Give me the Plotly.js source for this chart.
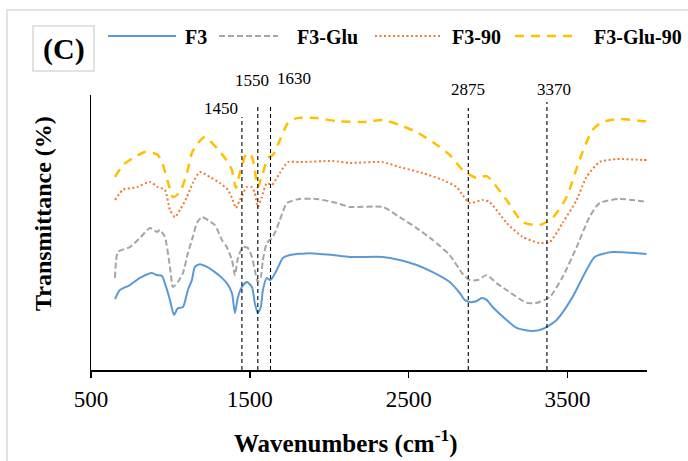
<!DOCTYPE html>
<html>
<head>
<meta charset="utf-8">
<script src="https://cdn.plot.ly/plotly-3.0.1.min.js"></script>
<style>
  html, body { margin: 0; padding: 0; background: #ffffff; }
  #chart { width: 688px; height: 461px; }
</style>
</head>
<body>
<div id="chart"></div>
<script>
// FTIR spectra (wavenumber in cm-1, transmittance in arbitrary offset %)
const wnF3 = [651, 682, 745, 808, 884, 915, 947, 965, 997, 1022, 1047, 1079, 1110, 1135, 1154, 1186, 1230, 1280, 1324, 1355, 1387, 1406, 1425, 1450, 1481, 1513, 1531, 1550, 1569, 1582, 1607, 1626, 1645, 1670, 1708, 1752, 1877, 2022, 2129, 2336, 2443, 2550, 2651, 2758, 2821, 2852, 2884, 2928, 2959, 2991, 3028, 3116, 3179, 3280, 3343, 3431, 3531, 3619, 3670, 3720, 3783, 3997];
const tF3  = [25.8, 29.1, 30.9, 33.5, 35.3, 34.5, 34.2, 31.6, 25.5, 20.0, 22.5, 22.9, 29.1, 32.7, 37.5, 38.5, 37.5, 35.6, 33.5, 31.6, 28.0, 20.7, 26.5, 30.2, 32.0, 30.2, 24.4, 20.7, 22.9, 29.1, 33.5, 32.7, 33.8, 36.4, 40.7, 41.8, 42.5, 41.8, 41.1, 41.1, 40.0, 38.2, 35.6, 32.0, 28.0, 25.5, 24.7, 25.1, 26.2, 25.5, 22.9, 18.2, 15.3, 14.2, 14.9, 18.2, 26.5, 36.4, 41.1, 42.2, 42.9, 42.2];

const wnF3Glu = [651, 670, 745, 808, 871, 915, 934, 965, 997, 1016, 1047, 1079, 1110, 1141, 1167, 1198, 1236, 1280, 1324, 1355, 1387, 1406, 1425, 1456, 1487, 1513, 1531, 1550, 1569, 1582, 1607, 1638, 1657, 1689, 1733, 1814, 1921, 2047, 2129, 2336, 2443, 2550, 2651, 2758, 2840, 2884, 2934, 2991, 3053, 3116, 3242, 3305, 3387, 3469, 3557, 3638, 3701, 3827, 3997];
const tF3Glu  = [33.5, 42.9, 44.7, 48.0, 51.6, 50.2, 50.9, 48.4, 37.5, 30.2, 32.0, 35.3, 42.5, 48.4, 53.5, 55.6, 54.5, 52.7, 47.3, 44.7, 40.0, 34.5, 40.7, 44.7, 44.4, 41.1, 36.4, 32.0, 33.8, 40.0, 46.2, 48.0, 49.8, 54.5, 60.7, 62.2, 62.2, 60.7, 59.3, 59.3, 55.6, 51.6, 47.3, 41.8, 34.9, 32.7, 32.7, 34.5, 31.6, 29.1, 24.4, 24.4, 26.5, 33.8, 44.7, 55.6, 60.7, 62.2, 61.1];

const wnF390 = [651, 701, 789, 871, 921, 965, 997, 1028, 1060, 1104, 1141, 1186, 1248, 1311, 1362, 1393, 1412, 1437, 1481, 1513, 1531, 1550, 1575, 1607, 1638, 1689, 1739, 1814, 2022, 2129, 2336, 2443, 2588, 2714, 2802, 2840, 2884, 2965, 3009, 3116, 3217, 3324, 3387, 3469, 3557, 3619, 3701, 3808, 3972, 3997];
const tF390  = [61.8, 65.5, 66.5, 68.4, 66.5, 65.5, 58.2, 55.6, 58.2, 62.9, 68.0, 72.0, 70.2, 68.0, 65.5, 61.8, 58.9, 61.8, 66.5, 66.5, 64.4, 59.3, 62.9, 68.0, 67.3, 71.6, 75.6, 75.6, 76.0, 75.3, 75.6, 73.8, 71.6, 69.1, 66.5, 63.6, 60.7, 61.8, 61.1, 53.5, 48.4, 46.2, 46.5, 53.5, 61.8, 70.2, 75.6, 76.7, 76.4, 76.4];

const wnF3Glu90 = [651, 701, 764, 840, 890, 921, 947, 984, 1016, 1060, 1104, 1135, 1173, 1217, 1292, 1343, 1387, 1412, 1437, 1481, 1513, 1531, 1550, 1582, 1613, 1645, 1689, 1739, 1796, 1921, 2047, 2236, 2336, 2443, 2550, 2651, 2758, 2840, 2928, 2991, 3116, 3217, 3324, 3406, 3494, 3575, 3657, 3720, 3827, 3972, 3997];
const tF3Glu90  = [70.2, 74.5, 77.1, 79.3, 78.9, 78.2, 75.6, 68.4, 62.9, 64.7, 71.6, 78.9, 82.5, 84.7, 80.7, 77.1, 72.7, 66.2, 71.6, 78.9, 77.5, 72.7, 66.5, 71.6, 77.1, 78.2, 83.6, 89.8, 91.6, 91.6, 90.5, 90.2, 90.9, 89.1, 86.5, 82.9, 78.2, 72.7, 69.8, 70.5, 61.8, 53.8, 52.7, 55.3, 62.9, 76.4, 87.3, 90.2, 91.3, 90.5, 90.5];

// Marked absorption bands and the top of each guide line
const peakWn  = [1450, 1550, 1630, 2875, 3370];
const peakTop = [92.0, 96.4, 96.4, 95.3, 97.5];

const seriesNames = ['F3', 'F3-Glu', 'F3-90', 'F3-Glu-90'];
const xTicks = [500, 1500, 2500, 3500];

const serif = 'Liberation Serif, Times New Roman, serif';
const styles = [
  { color: '#5B9BD5', width: 2.0, dash: 'solid' },
  { color: '#A5A5A5', width: 2.0, dash: '6px,3px' },
  { color: '#ED7D31', width: 2.0, dash: '2px,2.5px' },
  { color: '#FFC000', width: 2.5, dash: '9px,7px' }
];
const xs = [wnF3, wnF3Glu, wnF390, wnF3Glu90];
const ys = [tF3, tF3Glu, tF390, tF3Glu90];

const traces = seriesNames.map((name, i) => ({
  type: 'scatter',
  mode: 'lines',
  name: name,
  x: xs[i],
  y: ys[i],
  line: { color: styles[i].color, width: styles[i].width, dash: styles[i].dash, shape: 'spline', smoothing: 0.6 },
  showlegend: false,
  hoverinfo: 'x+y+name'
}));

// plot area: 91..647 px wide, 95..370 px tall
const L = 91, R = 647, T = 95, B = 370;
const px = v => (v - L) / (R - L);
const py = v => (B - v) / (B - T);

const shapes = [];
const annotations = [];

// dashed guide lines at the marked bands
peakWn.forEach((w, i) => {
  shapes.push({
    type: 'line', xref: 'x', yref: 'y', x0: w, x1: w, y0: 0, y1: peakTop[i],
    line: { color: '#000000', width: 1.1, dash: '4px,3px' }
  });
});
const peakLabelShift = [-21, -6, 23, 0, 7];
const peakLabelY = [108, 80, 78, 89, 89];
peakWn.forEach((w, i) => {
  annotations.push({
    xref: 'x', yref: 'paper', x: w, y: py(peakLabelY[i]), xshift: peakLabelShift[i],
    text: String(w), showarrow: false, xanchor: 'center', yanchor: 'middle',
    font: { family: serif, size: 17, color: '#000000' }
  });
});

// outer frame
shapes.push({
  type: 'rect', xref: 'paper', yref: 'paper',
  x0: px(7), x1: px(720), y0: py(10), y1: py(480),
  line: { color: '#D9D9D9', width: 1.5 }, fillcolor: 'rgba(0,0,0,0)', layer: 'below'
});

// panel tag box
shapes.push({
  type: 'rect', xref: 'paper', yref: 'paper',
  x0: px(33), x1: px(94), y0: py(26), y1: py(71),
  line: { color: '#D9D9D9', width: 1.5 }, fillcolor: 'rgba(0,0,0,0)'
});
annotations.push({
  xref: 'paper', yref: 'paper', x: px(63.5), y: py(49), text: '<b>(C)</b>',
  showarrow: false, xanchor: 'center', yanchor: 'middle',
  font: { family: serif, size: 30, color: '#000000' }
});

// legend row
const legLine = [[108, 176], [219, 278], [375, 441], [515, 579]];
const legText = [183, 295, 450, 592];
const legY = 36;
seriesNames.forEach((name, i) => {
  shapes.push({
    type: 'line', xref: 'paper', yref: 'paper',
    x0: px(legLine[i][0]), x1: px(legLine[i][1]), y0: py(legY), y1: py(legY),
    line: { color: styles[i].color, width: styles[i].width, dash: styles[i].dash }
  });
  annotations.push({
    xref: 'paper', yref: 'paper', x: px(legText[i]), y: py(legY + 1), text: '<b>' + name + '</b>',
    showarrow: false, xanchor: 'left', yanchor: 'middle',
    font: { family: serif, size: 20, color: '#000000' }
  });
});

// axis titles
annotations.push({
  xref: 'paper', yref: 'paper', x: px(346), y: py(441), text: '<b>Wavenumbers (cm<sup>-1</sup>)</b>',
  showarrow: false, xanchor: 'center', yanchor: 'middle',
  font: { family: serif, size: 25, color: '#000000' }
});
annotations.push({
  xref: 'paper', yref: 'paper', x: px(43), y: py(214), text: '<b>Transmittance (%)</b>',
  showarrow: false, xanchor: 'center', yanchor: 'middle', textangle: -90,
  font: { family: serif, size: 24, color: '#000000' }
});

const layout = {
  width: 688, height: 461,
  margin: { l: L, r: 688 - R, t: T, b: 461 - B, pad: 0 },
  paper_bgcolor: '#ffffff', plot_bgcolor: '#ffffff',
  showlegend: false,
  xaxis: {
    range: [500, 4000], tickmode: 'array', tickvals: xTicks, ticktext: xTicks.map(String),
    showgrid: false, zeroline: false, showline: true, linecolor: '#000000', linewidth: 1.5,
    ticks: 'outside', ticklen: 6, tickwidth: 1.5, tickcolor: '#000000',
    ticklabelstandoff: 2,
    tickfont: { family: serif, size: 23, color: '#000000' }
  },
  yaxis: {
    range: [0, 100], showgrid: false, zeroline: false, showline: true, linecolor: '#000000', linewidth: 1.5,
    ticks: '', showticklabels: false
  },
  shapes: shapes,
  annotations: annotations
};

Plotly.newPlot('chart', traces, layout, { displayModeBar: false, staticPlot: true });
</script>
</body>
</html>
